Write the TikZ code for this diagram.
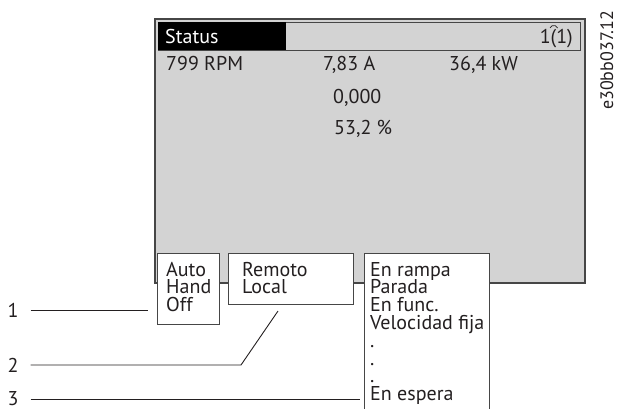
\documentclass[tikz,border=0pt]{standalone}
\usepackage{fontspec}
\setmainfont{PT Sans}

\definecolor{screengray}{RGB}{211,211,211}
\definecolor{rimgray}{RGB}{70,70,70}
\definecolor{inkgray}{RGB}{35,31,32}

\newcommand*{\firstrow}{276}
\newcommand*{\rowskip}{17.8}

\begin{document}
\begin{tikzpicture}
[
	x=1pt,y=-1pt,
	lbl/.style={anchor=base west,inner sep=0pt,text height=13pt,text depth=2pt,text=inkgray,font=\fontsize{20}{20}\selectfont},
	num/.style={inner sep=2pt,text=inkgray,font=\fontsize{20}{20}\selectfont},
	popup/.style={draw=rimgray,fill=white,line width=0.9pt},
	callout/.style={draw=inkgray,line width=0.9pt,shorten <=10pt}
]

	\useasboundingbox (0,0) rectangle (618,408);

	% screen
	\draw[rimgray,fill=screengray,line width=1.2pt] (155,19) rectangle (585,283);
	\draw[rimgray,line width=0.8pt] (158,22) rectangle (580,50);
	\fill[black] (158,22) rectangle (286,50);
	\node[lbl,text=white] (status) at (165,43) {Status};
	\node[lbl,anchor=base east] (page) at (573,43) {1(1)};
	\draw[inkgray,line width=0.7pt] (550,28) arc (200:340:4);

	% drawing code
	\node[lbl,rotate=90,font=\fontsize{18}{18}\selectfont] (code) at (613,110) {e30bb037.12};

	% readouts
	\node[lbl] (rpm) at (166,70) {799 RPM};
	\node[lbl] (amp) at (323,70) {7,83 A};
	\node[lbl] (kw) at (449,70) {36,4 kW};
	\node[lbl] (ref) at (333,103) {0,000};
	\node[lbl] (pct) at (334,134) {53,2 \%};

	% pop-up lists
	\draw[popup] (157,253) rectangle (219,324);
	\draw[popup] (228,253) rectangle (353,304);
	\draw[popup] (364,253) rectangle (489,415);

	\foreach \t [count=\i from 0] in {Auto,Hand,Off} {
		\node[lbl] (mode\i) at (166,\firstrow+\rowskip*\i) {\t};
	}
	\foreach \t [count=\i from 0] in {Remoto,Local} {
		\node[lbl] (site\i) at (242,\firstrow+\rowskip*\i) {\t};
	}
	\foreach \t [count=\i from 0] in {En rampa,Parada,En func.,Velocidad fija,.,.,.,En espera} {
		\node[lbl] (state\i) at (370,\firstrow+\rowskip*\i) {\t};
	}

	% callouts
	\node[num] (n1) at (13,310) {1};
	\node[num] (n2) at (13,365) {2};
	\node[num] (n3) at (13,399) {3};
	\coordinate (c1) at (148,310);
	\coordinate (k2) at (241,365);
	\coordinate (c2) at (278,311);
	\coordinate (c3) at (360,399);
	\draw[callout] (n1) -- (c1);
	\draw[callout] (n2) -- (k2) -- (c2);
	\draw[callout] (n3) -- (c3);

\end{tikzpicture}
\end{document}
